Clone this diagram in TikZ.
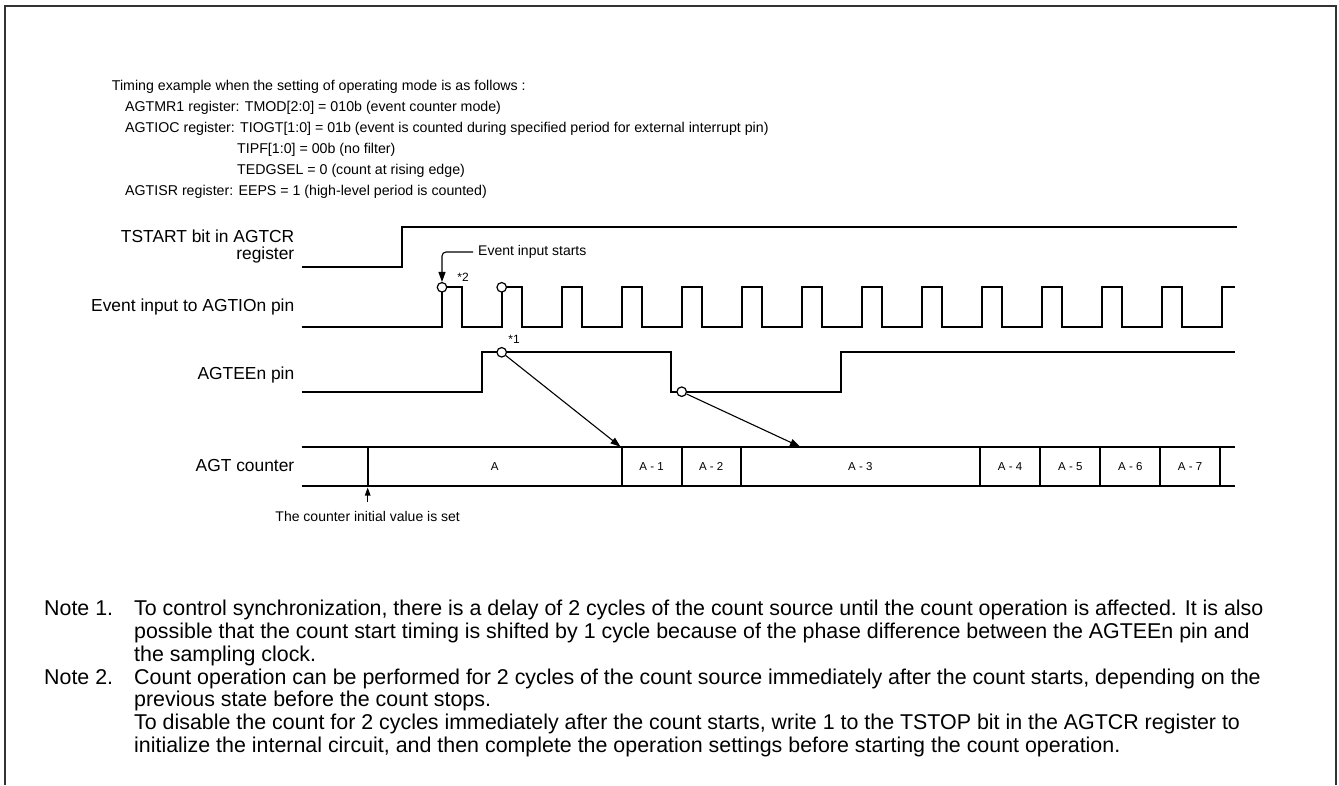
\documentclass[tikz,border=0pt]{standalone}
\usepackage{fontspec}
\setmainfont{Liberation Sans}
\usetikzlibrary{arrows.meta}
\begin{document}
\begin{tikzpicture}[x=1pt,y=-1pt,
  sig/.style={line width=2pt, line join=miter},
  bus/.style={line width=2pt},
  pt/.style={circle, draw, fill=white, line width=1.2pt, minimum size=9.5pt, inner sep=0pt},
  ptr/.style={line width=1.1pt, -{Triangle[length=10pt,width=7pt]}},
  ptrs/.style={line width=1.1pt, -{Triangle[length=8pt,width=5.5pt]}},
  hdr/.style={font=\fontsize{14.2}{17}\selectfont, anchor=base west, inner sep=0pt},
  lbl/.style={font=\fontsize{17.4}{17}\selectfont, anchor=base east, inner sep=0pt},
  small/.style={font=\fontsize{14}{16}\selectfont, inner sep=0pt},
  star/.style={font=\fontsize{12}{14}\selectfont, inner sep=0pt},
  cnt/.style={font=\fontsize{11.5}{13}\selectfont, inner sep=0pt},
  note/.style={font=\fontsize{21.4}{24}\selectfont, anchor=base west, inner sep=0pt},
  frame/.style={line width=2pt, draw=black!80}
]
\useasboundingbox (0,0) rectangle (1339,785);
\draw[frame] (4.5,785) -- (4.5,6) -- (1336.3,6) -- (1336.3,785);

% header
\node[hdr] (h1) at (111.7,90.1) {Timing example when the setting of operating mode is as follows :};
\node[hdr] (h2) at (125,111.1) {AGTMR1 register: TMOD[2:0] = 010b (event counter mode)};
\node[hdr] (h3) at (125,132.1) {AGTIOC register: TIOGT[1:0] = 01b (event is counted during specified period for external interrupt pin)};
\node[hdr] (h4) at (237,153.1) {TIPF[1:0] = 00b (no filter)};
\node[hdr] (h5) at (237,174.1) {TEDGSEL = 0 (count at rising edge)};
\node[hdr] (h6) at (125,195.1) {AGTISR register: EEPS = 1 (high-level period is counted)};

% signal labels
\node[lbl] (l1a) at (294.5,242.9) {TSTART bit in AGTCR};
\node[lbl] (l1b) at (294.5,259) {register};
\node[lbl] (l2) at (294.5,311.2) {Event input to AGTIOn pin};
\node[lbl] (l3) at (294.5,379.5) {AGTEEn pin};
\node[lbl] (l4) at (294.5,471.2) {AGT counter};

% TSTART
\draw[sig] (301.7,267.3) -- (402.3,267.3) -- (402.3,227.3) -- (1236.7,227.3);
% event input
\draw[sig] (301.7,326.7) -- (442,326.7)
  foreach \k in {0,...,12}{ -- ({442+60*\k},287.3) -- ({462+60*\k},287.3) -- ({462+60*\k},326.7) -- ({502+60*\k},326.7)}
  -- (1222,287.3) -- (1235,287.3);
% AGTEEn
\draw[sig] (301.7,391.7) -- (482,391.7) -- (482,352.3) -- (671,352.3) -- (671,391.7) -- (840.7,391.7) -- (840.7,352.3) -- (1235,352.3);
% counter bus
\draw[bus] (301.7,446.7) -- (1235,446.7);
\draw[bus] (301.7,486) -- (1235,486);
\foreach \x in {367.7,621.5,681.8,740.7,980,1040.3,1100.3,1160.3,1220} \draw[bus] (\x,446.7) -- (\x,486);
\node[cnt] (cA) at (494.6,466.3) {A};
\node[cnt] (cA1) at (651.6,466.3) {A - 1};
\node[cnt] (cA2) at (711.2,466.3) {A - 2};
\node[cnt] (cA3) at (860.3,466.3) {A - 3};
\node[cnt] (cA4) at (1010.1,466.3) {A - 4};
\node[cnt] (cA5) at (1070.3,466.3) {A - 5};
\node[cnt] (cA6) at (1130.3,466.3) {A - 6};
\node[cnt] (cA7) at (1190.1,466.3) {A - 7};

% circles
\node[pt] (c1) at (442,287.3) {};
\node[pt] (c2) at (501.7,287.3) {};
\node[pt] (c3) at (501.7,352.3) {};
\node[pt] (c4) at (681.7,391.7) {};
\node[star] (s2) at (463,277.7) {*2};
\node[star] (s1) at (514,339.3) {*1};

% arrows
\coordinate (t1) at (620.5,446.7);
\coordinate (t2) at (800,446.7);
\draw[ptr] (c3) -- (t1);
\draw[ptr] (c4) -- (t2);
\node[small, anchor=west, inner xsep=5pt] (evs) at (473,252) {Event input starts};
\draw[ptr, rounded corners=4pt] (evs.west) -- (442,252) -- (c1.north);

\node[small] (init) at (367.7,516) {The counter initial value is set};
\coordinate (ia) at (367.7,502);
\coordinate (ib) at (367.7,487.5);
\draw[ptrs] (ia) -- (ib);

% notes
\node[note] (n1) at (44,615) {Note 1.};
\node[note] (n1a) at (134,615) {To control synchronization, there is a delay of 2 cycles of the count source until the count operation is affected. It is also};
\node[note] (n1b) at (134,638) {possible that the count start timing is shifted by 1 cycle because of the phase difference between the AGTEEn pin and};
\node[note] (n1c) at (134,661) {the sampling clock.};
\node[note] (n2) at (44,684) {Note 2.};
\node[note] (n2a) at (134,684) {Count operation can be performed for 2 cycles of the count source immediately after the count starts, depending on the};
\node[note] (n2b) at (134,706.5) {previous state before the count stops.};
\node[note] (n2c) at (134,729.5) {To disable the count for 2 cycles immediately after the count starts, write 1 to the TSTOP bit in the AGTCR register to};
\node[note] (n2d) at (134,752.5) {initialize the internal circuit, and then complete the operation settings before starting the count operation.};
\end{tikzpicture}
\end{document}
